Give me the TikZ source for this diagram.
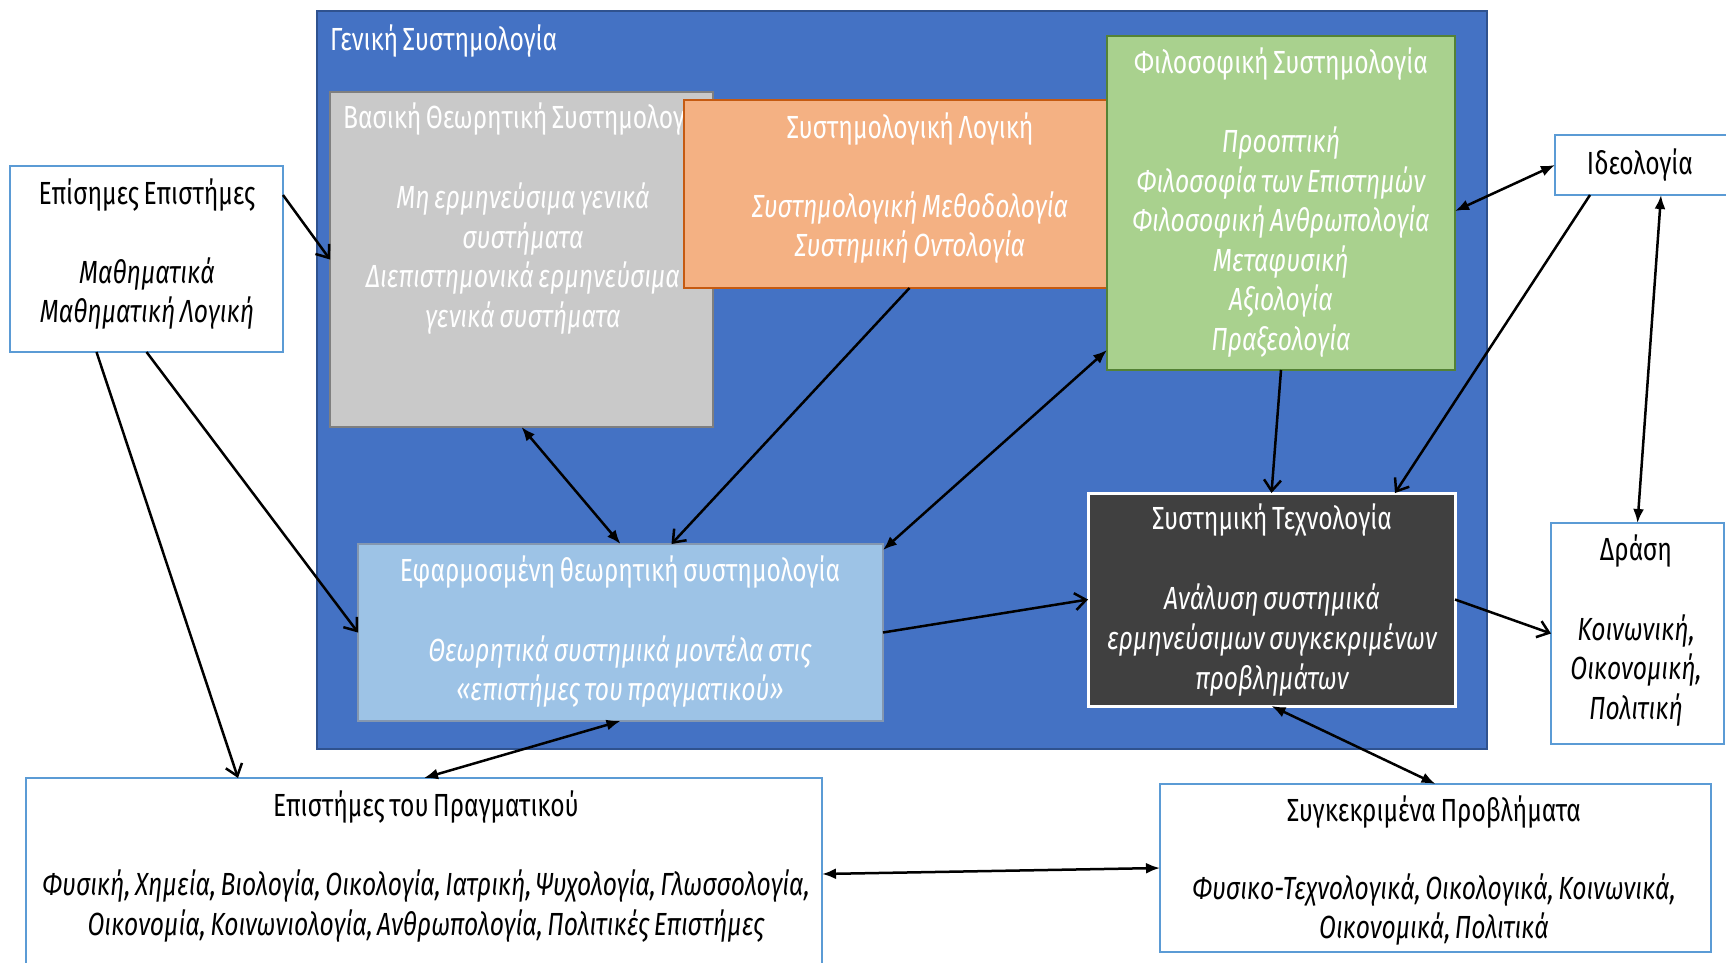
\documentclass[tikz,border=0pt]{standalone}
\usepackage{fontspec}
\setmainfont{Fira Sans}[FakeStretch=0.77, WordSpace=0.7]
\usetikzlibrary{arrows.meta}

\definecolor{genfill}{HTML}{4472C4}
\definecolor{genedge}{HTML}{2F528F}
\definecolor{basicfill}{HTML}{C9C9C9}
\definecolor{basicedge}{HTML}{7F7F7F}
\definecolor{logicfill}{HTML}{F4B183}
\definecolor{logicedge}{HTML}{C55A11}
\definecolor{philfill}{HTML}{A9D18E}
\definecolor{philedge}{HTML}{548235}
\definecolor{applfill}{HTML}{9DC3E6}
\definecolor{appledge}{HTML}{8497B0}
\definecolor{techfill}{HTML}{404040}
\definecolor{outedge}{HTML}{5B9BD5}

\tikzset{
  panel/.style={line width=2pt, inner sep=0pt, outer sep=0pt, anchor=north west},
  outbox/.style={panel, draw=outedge, fill=white},
  hd/.style={font=\fontsize{32}{39.6}\selectfont, inner sep=0pt, align=center},
  bd/.style={font=\fontsize{32}{39.6}\selectfont\itshape, inner sep=0pt, align=center},
  one/.style={line width=2.5pt, -{Straight Barb[length=11pt,width=17pt,line width=2.5pt]}},
  two/.style={line width=2.5pt, {Latex[length=14pt,width=11pt]}-{Latex[length=14pt,width=11pt]}},
}

\begin{document}
\begin{tikzpicture}[x=1pt,y=-1pt]
\useasboundingbox (0,0) rectangle (1726,963);

% general systemology frame
\node[panel, fill=genfill, draw=genedge, minimum width=1170pt, minimum height=738pt] (gen) at (317,11) {};
\node[hd, text=white, anchor=west] (gen-t) at (330,41) {Γενική Συστημολογία};

% basic theoretical systemology
\node[panel, fill=basicfill, draw=basicedge, minimum width=383pt, minimum height=335pt] (basic) at (330,92) {};
\node[hd, text=white, anchor=west] (basic-t) at (343,119) {Βασική Θεωρητική Συστημολογία};
\node[bd, text=white] (basic-b) at (523,258.5) {Μη ερμηνεύσιμα γενικά\\συστήματα\\Διεπιστημονικά ερμηνεύσιμα\\γενικά συστήματα};

% systemological logic
\node[panel, fill=logicfill, draw=logicedge, minimum width=423pt, minimum height=188pt] (logic) at (684,100) {};
\node[hd, text=white] (logic-t) at (910,129) {Συστημολογική Λογική};
\node[bd, text=white] (logic-b) at (910,227.5) {Συστημολογική Μεθοδολογία\\Συστημική Οντολογία};

% philosophical systemology
\node[panel, fill=philfill, draw=philedge, minimum width=348pt, minimum height=334pt] (green) at (1107,36) {};
\node[hd, text=white] (green-t) at (1281,64) {Φιλοσοφική Συστημολογία};
\node[bd, text=white] (green-b) at (1281,242) {Προοπτική\\Φιλοσοφία των Επιστημών\\Φιλοσοφική Ανθρωπολογία\\Μεταφυσική\\Αξιολογία\\Πραξεολογία};

% applied theoretical systemology
\node[panel, fill=applfill, draw=appledge, minimum width=525pt, minimum height=177pt] (eff) at (358,544) {};
\node[hd, text=white] (eff-t) at (620,572) {Εφαρμοσμένη θεωρητική συστημολογία};
\node[bd, text=white] (eff-b) at (620,671.5) {Θεωρητικά συστημικά μοντέλα στις\\«επιστήμες του πραγματικού»};

% systems technology
\node[panel, fill=techfill, draw=white, line width=3pt, minimum width=367pt, minimum height=213pt] (tech) at (1088,493) {};
\node[hd, text=white] (tech-t) at (1272,520) {Συστημική Τεχνολογία};
\node[bd, text=white] (tech-b) at (1272,640) {Ανάλυση συστημικά\\ερμηνεύσιμων συγκεκριμένων\\προβλημάτων};

% outer boxes
\node[outbox, minimum width=273pt, minimum height=186pt] (epis) at (10,166) {};
\node[hd] (epis-t) at (147,195) {Επίσημες Επιστήμες};
\node[bd] (epis-b) at (147,293.5) {Μαθηματικά\\Μαθηματική Λογική};

\node[outbox, minimum width=180pt, minimum height=60pt] (ideo) at (1555,135) {};
\node[hd] (ideo-t) at (1640,165) {Ιδεολογία};

\node[outbox, minimum width=173pt, minimum height=221pt] (drasi) at (1551,523) {};
\node[hd] (drasi-t) at (1636,551) {Δράση};
\node[bd] (drasi-b) at (1636,670.5) {Κοινωνική,\\Οικονομική,\\Πολιτική};

\node[outbox, minimum width=796pt, minimum height=192pt] (real) at (26,778) {};
\node[hd] (real-t) at (426,807) {Επιστήμες του Πραγματικού};
\node[bd] (real-b) at (426,906) {Φυσική, Χημεία, Βιολογία, Οικολογία, Ιατρική, Ψυχολογία, Γλωσσολογία,\\Οικονομία, Κοινωνιολογία, Ανθρωπολογία, Πολιτικές Επιστήμες};

\node[outbox, minimum width=551pt, minimum height=168pt] (prob) at (1160,784) {};
\node[hd] (prob-t) at (1434,812) {Συγκεκριμένα Προβλήματα};
\node[bd] (prob-b) at (1434,909.5) {Φυσικο-Τεχνολογικά, Οικολογικά, Κοινωνικά,\\Οικονομικά, Πολιτικά};

% connectors
\draw[one] ([yshift=64pt]epis.east) -- (basic.west);
\draw[one] (epis.south) -- (eff.west);
\draw[one] ([xshift=-50pt]epis.south) -- ([xshift=-186pt]real.north);
\draw[two] (basic.south) -- (eff.north);
\draw[one] ([xshift=14pt]logic.south) -- ([xshift=51pt]eff.north);
\draw[two] ([yshift=-6pt]eff.north east) -- ([yshift=20pt]green.south west);
\draw[one] (green.south) -- (tech.north);
\draw[one] (eff.east) -- (tech.west);
\draw[two] ([yshift=-8pt]green.east) -- (ideo.west);
\draw[one] ([xshift=35pt]ideo.south west) -- ([xshift=-60pt]tech.north east);
\draw[two] ([xshift=106pt]ideo.south west) -- (drasi.north);
\draw[one] (tech.east) -- (drasi.west);
\draw[two] (eff.south) -- (real.north);
\draw[two] (tech.south) -- (prob.north);
\draw[two] (real.east) -- (prob.west);
\end{tikzpicture}
\end{document}
